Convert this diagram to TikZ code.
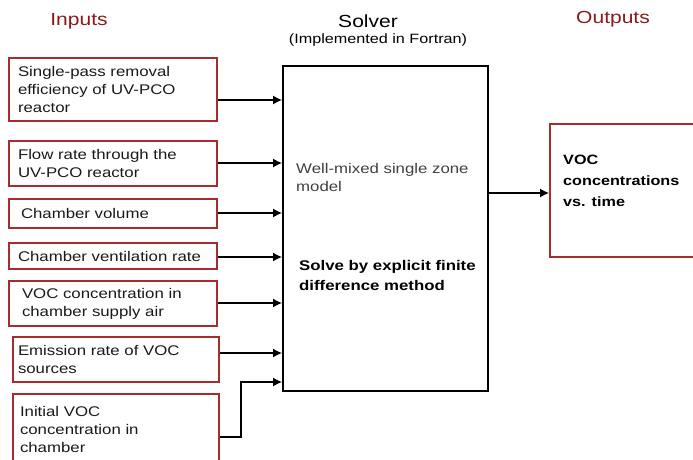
\documentclass[tikz,border=0pt]{standalone}
\usepackage{fontspec}
\setmainfont{Liberation Sans}[FakeStretch=1.2]
\usetikzlibrary{%
  arrows.meta,%
  calc,%
  positioning%
}
\definecolor{boxred}{RGB}{165,45,45}
\definecolor{headred}{RGB}{140,25,25}
\tikzset{>={Latex[length=9pt,width=9pt]}, feed/.style = {->, line width=1.2pt},
	inbox/.style = {draw=boxred, line width=2pt, text width=190pt, inner xsep=9pt,
	    inner ysep=0pt, align=left, anchor=west, text=black!90,
	    font=\fontsize{14}{18}\selectfont},
	head/.style = {font=\fontsize{17.5}{20}\selectfont}}

\begin{document}
\begin{tikzpicture}[x=1pt,y=-1pt]
    \useasboundingbox (0,0) rectangle (693,460);
    \node[head,text=headred] (intitle) at (79,21) {Inputs};
    \node[head] (soltitle) at (368,21) {Solver};
    \node[font=\fontsize{13.5}{15}\selectfont] (solsub) at (378,40) {(Implemented in Fortran)};
    \node[head,text=headred] (outtitle) at (613,19) {Outputs};
    \node[inbox,minimum height=63pt] (b1) at (8,89.5) {Single-pass removal\\efficiency of UV-PCO\\reactor};
    \node[inbox,minimum height=45pt] (b2) at (8,163.5) {Flow rate through the\\UV-PCO reactor};
    \node[inbox,minimum height=29pt] (b3) at (8,213.5) {\hspace*{3pt}Chamber volume};
    \node[inbox,minimum height=26pt] (b4) at (8,256) {Chamber ventilation rate};
    \node[inbox,minimum height=45pt] (b5) at (8,303.5) {\hspace*{4pt}VOC concentration in\\\hspace*{4pt}chamber supply air};
    \node[inbox,minimum height=45pt,text width=196pt,inner xsep=5pt] (b6) at (12,359.5) {Emission rate of VOC\\sources};
    \node[inbox,minimum height=70pt,text width=192pt,inner xsep=7pt] (b7) at (12,429) {Initial VOC\\concentration in\\chamber};
    \node[draw,line width=2pt,minimum width=205pt,minimum height=325pt] (solver) at (385.5,228.5) {};
    \node[anchor=west,inner sep=0pt,align=left,text=black!75,font=\fontsize{14}{18}\selectfont] (model) at (296,177) {Well-mixed single zone\\model};
    \node[anchor=west,inner sep=0pt,align=left,font=\bfseries\fontsize{14}{20}\selectfont] (method) at (299,275) {Solve by explicit finite\\difference method};
    \node[draw=boxred,line width=2pt,minimum width=146pt,minimum height=133pt] (outbox) at (623,190.5) {};
    \node[anchor=west,inner sep=0pt,align=left,font=\bfseries\fontsize{13.5}{21}\selectfont] (voc) at (563,181) {VOC\\concentrations\\vs. time};
    \foreach \b/\y in {b1/100,b2/163,b3/213,b4/257,b5/303,b6/353}
      \draw[feed] (\b.east |- 0,\y) -- (solver.west |- 0,\y);
    \draw[feed] ([yshift=-8pt]b7.east) -- ++(21,0) |- (solver.west |- 0,382);
    \draw[feed] (solver.east |- 0,193) -- (outbox.west |- 0,193);
  \end{tikzpicture}
\end{document}
